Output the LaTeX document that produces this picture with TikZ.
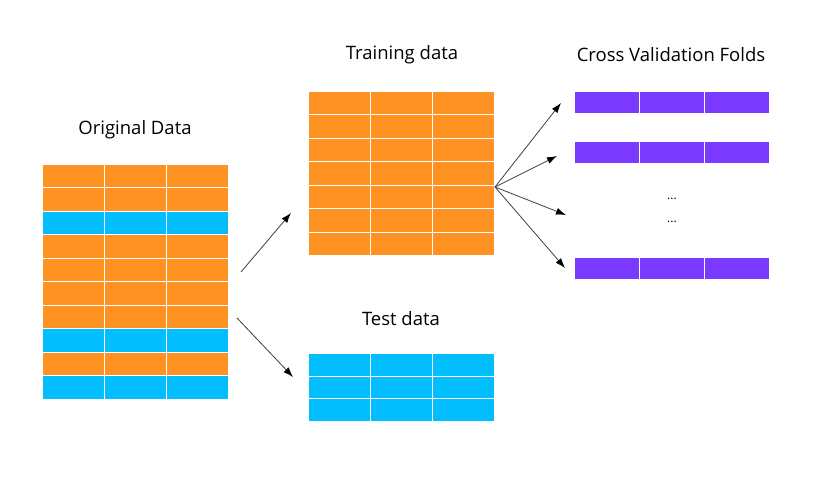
\documentclass[tikz,border=0pt]{standalone}
\usepackage{fontspec}
\setmainfont{Open Sans}
\usetikzlibrary{arrows.meta}
\definecolor{dorange}{RGB}{254,146,34}
\definecolor{dblue}{RGB}{3,190,252}
\definecolor{dpurple}{RGB}{122,58,255}
\begin{document}
\begin{tikzpicture}[x=1pt,y=-1pt,
  cell/.style={draw=white, line width=0.9pt},
  block/.style={inner sep=0pt, anchor=north west, draw=none},
  title/.style={font=\fontsize{18.5}{22}\selectfont, text=black},
  dots/.style={font=\fontsize{12}{14}\selectfont, text=black},
  link/.style={draw=black!75, line width=0.8pt, -{Latex[length=10pt,width=7pt,black]}}]
\useasboundingbox[fill=white] (0,0) rectangle (815,500);

% original data: 10 rows x 3 columns
\foreach \c [count=\i from 0] in {dorange,dorange,dblue,dorange,dorange,dorange,dorange,dblue,dorange,dblue}
  \foreach \j in {0,1,2}
    \filldraw[cell, fill=\c] (42+62*\j,164+23.5*\i) rectangle ++(62,23.5);
\node[block, minimum width=186pt, minimum height=235pt] (orig) at (42,164) {};

% training data: 7 rows x 3 columns
\foreach \i in {0,...,6}
  \foreach \j in {0,1,2}
    \filldraw[cell, fill=dorange] (308+62*\j,91+23.5*\i) rectangle ++(62,23.5);
\node[block, minimum width=186pt, minimum height=164.5pt] (train) at (308,91) {};

% test data: 3 rows x 3 columns
\foreach \i in {0,1,2}
  \foreach \j in {0,1,2}
    \filldraw[cell, fill=dblue] (308+62*\j,353.5+22.7*\i) rectangle ++(62,22.7);
\node[block, minimum width=186pt, minimum height=68pt] (test) at (308,353.5) {};

% cross validation folds
\foreach \y [count=\k] in {91,141.5,257}{
  \foreach \j in {0,1,2}
    \filldraw[cell, fill=dpurple] (574+65*\j,\y) rectangle ++(65,22.3);
  \node[block, minimum width=195pt, minimum height=22.3pt] (fold\k) at (574,\y) {};
}

% titles
\node[title] (tOrig)  at (135,130) {Original Data};
\node[title] (tTrain) at (402,55)  {Training data};
\node[title] (tFolds) at (671,55)  {Cross Validation Folds};
\node[title] (tTest)  at (401,319) {Test data};
\node[dots] (d1) at (672,199) {...};
\node[dots] (d2) at (672,222) {...};

% split arrows
\coordinate (s1) at (241,272);
\coordinate (e1) at (291,213);
\coordinate (s2) at (237,318);
\coordinate (e2) at (293,377);
\draw[link] (s1) -- (e1);
\draw[link] (s2) -- (e2);

% fan out to the folds
\coordinate (fan) at (495,187);
\coordinate (f1) at (561,103);
\coordinate (f2) at (557,156);
\coordinate (f3) at (566,215);
\coordinate (f4) at (565,268);
\foreach \t in {f1,f2,f3,f4}
  \draw[link] (fan) -- (\t);
\end{tikzpicture}
\end{document}
